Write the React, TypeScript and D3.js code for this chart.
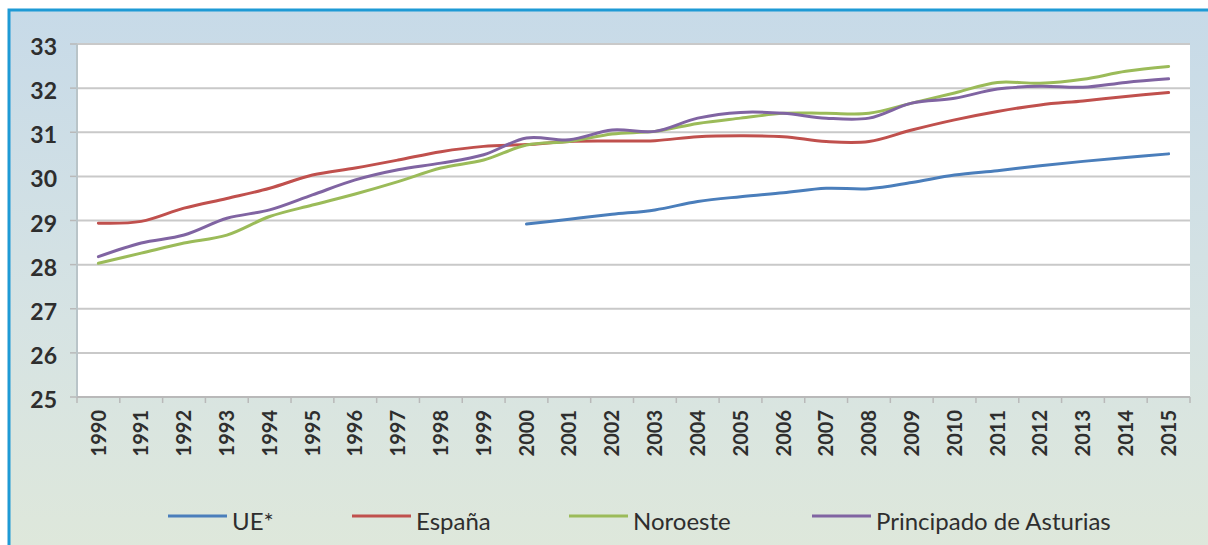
import React from "react";
import * as d3 from "d3";

const years: string[] = [
  "1990","1991","1992","1993","1994","1995","1996","1997","1998","1999",
  "2000","2001","2002","2003","2004","2005","2006","2007","2008","2009",
  "2010","2011","2012","2013","2014","2015",
];

const ue: (number | null)[] = [
  null, null, null, null, null, null, null, null, null, null,
  28.92, 29.03, 29.14, 29.24, 29.43, 29.54, 29.63, 29.73, 29.72, 29.86,
  30.03, 30.13, 30.24, 30.34, 30.43, 30.51,
];
const espana: number[] = [
  28.94, 28.98, 29.28, 29.5, 29.73, 30.03, 30.19, 30.37, 30.56, 30.68,
  30.72, 30.79, 30.8, 30.81, 30.9, 30.92, 30.9, 30.79, 30.79, 31.05,
  31.28, 31.47, 31.62, 31.71, 31.81, 31.9,
];
const noroeste: number[] = [
  28.03, 28.26, 28.49, 28.67, 29.09, 29.35, 29.6, 29.88, 30.19, 30.37,
  30.71, 30.79, 30.96, 31.02, 31.2, 31.32, 31.43, 31.43, 31.43, 31.66,
  31.89, 32.13, 32.11, 32.2, 32.38, 32.49,
];
const asturias: number[] = [
  28.18, 28.49, 28.67, 29.05, 29.24, 29.58, 29.92, 30.15, 30.3, 30.49,
  30.87, 30.83, 31.05, 31.02, 31.32, 31.45, 31.43, 31.32, 31.32, 31.66,
  31.77, 31.98, 32.04, 32.02, 32.13, 32.21,
];
const yTicks: number[] = [25, 26, 27, 28, 29, 30, 31, 32, 33];

const seriesNames = ["UE*", "España", "Noroeste", "Principado de Asturias"];
const seriesColors = ["#4a7ebb", "#c0504d", "#9bbb59", "#8064a2"];
const seriesData = [ue, espana, noroeste, asturias];
const legendX = [168, 352, 569, 812];

export default function App() {
  const W = 1208, H = 545;
  const left = 77, right = 1190, top = 44, bottom = 397;
  const x = d3.scaleBand<string>().domain(years).range([left, right]).padding(0);
  const y = d3.scaleLinear().domain([25, 33]).range([bottom, top]);
  const cx = (yr: string) => (x(yr) as number) + x.bandwidth() / 2;

  const line = d3
    .line<number | null>()
    .defined((d) => d != null)
    .x((_, i) => cx(years[i]))
    .y((d) => y(d as number))
    .curve(d3.curveCatmullRom.alpha(0.5));

  const font = "Lato, 'Open Sans', sans-serif";
  const boundaries = years.map((yr) => x(yr) as number).concat([right]);

  return (
    <svg
      width={W}
      height={H}
      style={{ position: "absolute", left: 0, top: 0 }}
      xmlns="http://www.w3.org/2000/svg"
    >
      <defs>
        <linearGradient id="bg" x1="0" y1="0" x2="0" y2="1">
          <stop offset="0" stopColor="#c7dae8" />
          <stop offset="0.55" stopColor="#d6e3e3" />
          <stop offset="1" stopColor="#dfe8da" />
        </linearGradient>
      </defs>
      <rect x={0} y={0} width={W} height={H} fill="#ffffff" />
      <rect x={9} y={10} width={W + 20} height={H + 20} fill="url(#bg)" stroke="#1e9ad5" strokeWidth={3} />
      <rect x={left} y={top} width={right - left} height={bottom - top} fill="#ffffff" />

      {yTicks.map((t) => (
        <g key={t}>
          <line x1={left} x2={right} y1={y(t)} y2={y(t)} stroke="#c9c9c9" strokeWidth={2} />
          <line x1={left - 7} x2={left} y1={y(t)} y2={y(t)} stroke="#b9b9b9" strokeWidth={1.5} />
          <text
            x={57}
            y={y(t) + 3}
            dy="0.35em"
            textAnchor="end"
            fontFamily={font}
            fontWeight={700}
            fontSize={23}
            fill="#2e2e2e"
          >
            {t}
          </text>
        </g>
      ))}
      <line x1={left} x2={left} y1={top} y2={bottom} stroke="#b9c4c8" strokeWidth={2} />
      <line x1={left} x2={right} y1={bottom} y2={bottom} stroke="#b9b9b9" strokeWidth={2} />
      {boundaries.map((b, i) => (
        <line key={i} x1={b} x2={b} y1={bottom} y2={bottom + 6} stroke="#b9b9b9" strokeWidth={1.5} />
      ))}
      {years.map((yr) => (
        <text
          key={yr}
          transform={`translate(${cx(yr)},${410}) rotate(-90)`}
          dy="0.36em"
          textAnchor="end"
          fontFamily={font}
          fontWeight={700}
          fontSize={20}
          fill="#2e2e2e"
        >
          {yr}
        </text>
      ))}

      {seriesData.map((s, i) => (
        <path
          key={seriesNames[i]}
          d={line(s) || ""}
          fill="none"
          stroke={seriesColors[i]}
          strokeWidth={3}
          strokeLinejoin="round"
          strokeLinecap="round"
        />
      ))}

      {seriesNames.map((n, i) => (
        <g key={n}>
          <line
            x1={legendX[i]}
            x2={legendX[i] + 59}
            y1={516}
            y2={516}
            stroke={seriesColors[i]}
            strokeWidth={3}
          />
          <text
            x={legendX[i] + 64}
            y={530}
            fontFamily={font}
            fontSize={24}
            fill="#2e2e2e"
          >
            {n}
          </text>
        </g>
      ))}
    </svg>
  );
}
